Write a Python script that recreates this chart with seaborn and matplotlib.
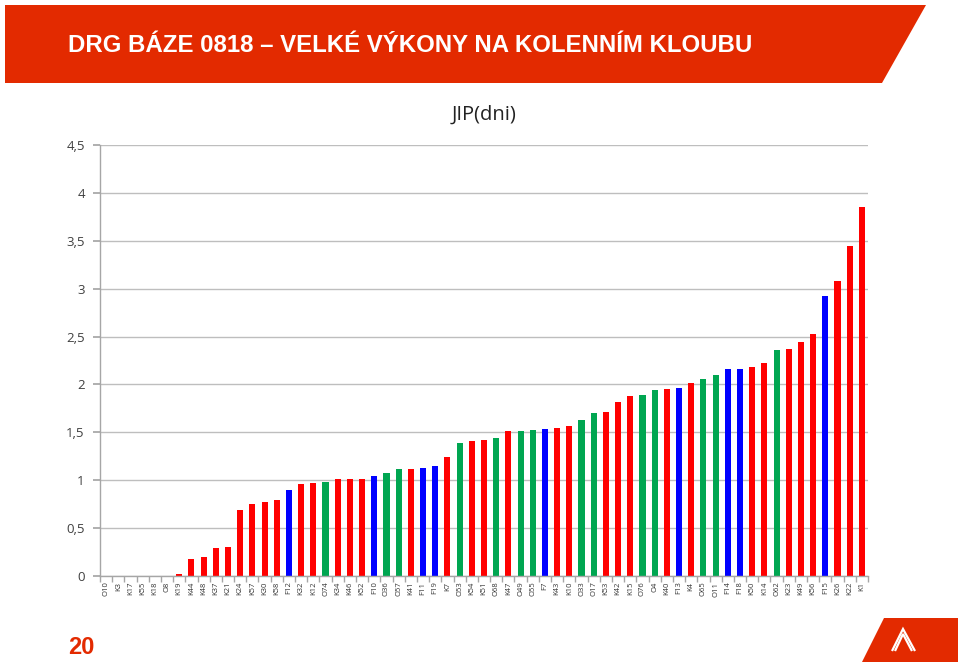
import matplotlib
matplotlib.use("Agg")
import matplotlib.pyplot as plt
from matplotlib.patches import Polygon
from matplotlib.ticker import FixedLocator
from matplotlib import font_manager
import seaborn as sns
import pandas as pd

labels = ["O10", "K3", "K17", "K55", "K18", "O8", "K19", "K44", "K48", "K37", "K21",
          "K24", "K57", "K30", "K58", "F12", "K32", "K12", "O74", "K34", "K46", "K52",
          "F10", "O36", "O57", "K41", "F11", "F19", "K7", "O53", "K54", "K51", "O68",
          "K47", "O49", "O55", "F7", "K43", "K10", "O33", "O17", "K53", "K42", "K15",
          "O76", "O4", "K40", "F13", "K4", "O65", "O11", "F14", "F18", "K50", "K14",
          "O62", "K23", "K49", "K56", "F15", "K26", "K22", "K1"]
values = [0, 0, 0, 0, 0, 0, 0.02, 0.18, 0.20, 0.29, 0.30,
          0.69, 0.75, 0.77, 0.79, 0.90, 0.96, 0.97, 0.98, 1.01, 1.01, 1.01,
          1.04, 1.08, 1.12, 1.12, 1.13, 1.15, 1.24, 1.39, 1.41, 1.42, 1.44,
          1.51, 1.51, 1.52, 1.54, 1.55, 1.57, 1.63, 1.70, 1.71, 1.82, 1.88,
          1.89, 1.94, 1.95, 1.96, 2.01, 2.06, 2.10, 2.16, 2.16, 2.18, 2.22,
          2.36, 2.37, 2.44, 2.53, 2.92, 3.08, 3.45, 3.85]
group_colors = {"K": "#FF0000", "O": "#00A651", "F": "#0000FF"}
y_ticks = [0, 0.5, 1, 1.5, 2, 2.5, 3, 3.5, 4, 4.5]
y_tick_labels = ["0", "0,5", "1", "1,5", "2", "2,5", "3", "3,5", "4", "4,5"]
chart_title = "JIP(dni)"
header_title = "DRG BÁZE 0818 – VELKÉ VÝKONY NA KOLENNÍM KLOUBU"
page_number = "20"

df = pd.DataFrame({"label": labels, "value": values})
df["group"] = df["label"].str[0]

sns.set_theme(style="white")
plt.rcParams["font.family"] = ["DejaVu Sans"]

installed = {f.name for f in font_manager.fontManager.ttflist}
if "Liberation Sans Narrow" in installed:
    head_family, head_size = ["Liberation Sans Narrow", "DejaVu Sans"], 20.5
else:
    head_family, head_size = ["Liberation Sans", "DejaVu Sans"], 17.3

W, H = 960, 666
fig = plt.figure(figsize=(W / 100, H / 100), dpi=100)
fig.patch.set_facecolor("white")

def fx(px):
    return px / W

def fy(py):
    return 1 - py / H

# header band
header = Polygon([(fx(5), fy(5)), (fx(926), fy(5)), (fx(882), fy(83)), (fx(5), fy(83))],
                 closed=True, transform=fig.transFigure, facecolor="#E32A00",
                 edgecolor="none", zorder=0)
fig.patches.append(header)
fig.text(fx(68), fy(46), header_title, color="white", fontsize=head_size,
         fontweight="bold", family=head_family, va="center", ha="left")

# footer
fig.text(fx(68), fy(648), page_number, color="#E32A00", fontsize=17,
         fontweight="bold", family=["Liberation Sans", "DejaVu Sans"],
         va="center", ha="left")
logo = Polygon([(fx(884), fy(618)), (fx(958), fy(618)), (fx(958), fy(662)), (fx(862), fy(662))],
               closed=True, transform=fig.transFigure, facecolor="#E32A00",
               edgecolor="none")
fig.patches.append(logo)
for off in (0, 5):
    sym = Polygon([(fx(892 + off * 0.6), fy(651)), (fx(903), fy(629 + off)),
                   (fx(915 - off * 0.6), fy(651))], closed=False,
                  transform=fig.transFigure, facecolor="none", edgecolor="white",
                  linewidth=1.6)
    fig.patches.append(sym)

# chart
ax = fig.add_axes([fx(100), fy(576), fx(868) - fx(100), fy(145) - fy(576)])
sns.barplot(data=df, x="label", y="value", hue="group", palette=group_colors,
            order=labels, dodge=False, width=0.5, legend=False, ax=ax,
            saturation=1, edgecolor="none")

ax.set_xlim(-0.5, len(labels) - 0.5)
ax.set_ylim(0, 4.5)
ax.set_yticks(y_ticks)
ax.set_yticklabels(y_tick_labels)
ax.set_xlabel("")
ax.set_ylabel("")
ax.set_title(chart_title, fontsize=14.5, family=["Open Sans", "DejaVu Sans"],
             color="#222222", pad=18)
ax.yaxis.grid(True, color="#BEBEBE", linewidth=1.0)
ax.set_axisbelow(True)
for side in ("top", "right"):
    ax.spines[side].set_visible(False)
for side in ("left", "bottom"):
    ax.spines[side].set_color("#A6A6A6")
    ax.spines[side].set_linewidth(1.0)

ax.tick_params(axis="y", length=5, color="#A6A6A6", labelsize=9.5,
               labelcolor="#404040", pad=6, left=True)
ax.tick_params(axis="x", which="major", length=0, labelsize=5.5,
               labelcolor="#333333", rotation=90, pad=4)
ax.xaxis.set_minor_locator(FixedLocator([i + 0.5 for i in range(-1, len(labels))]))
ax.tick_params(axis="x", which="minor", length=4, color="#A6A6A6", bottom=True)
for t in ax.get_xticklabels():
    t.set_family(["Open Sans", "DejaVu Sans"])
for t in ax.get_yticklabels():
    t.set_family(["Open Sans", "DejaVu Sans"])

fig.savefig("out.png", dpi=100)
